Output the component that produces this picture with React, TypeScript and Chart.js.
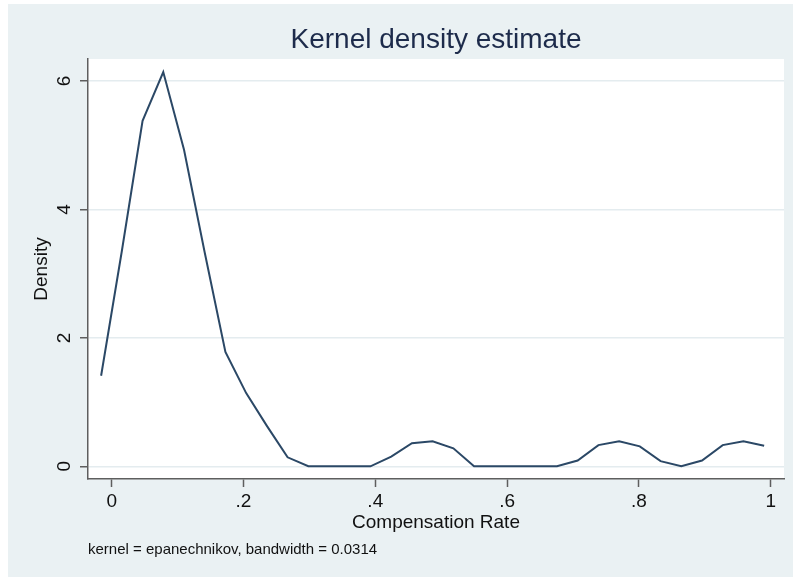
import React, { useEffect, useRef } from "react";
import { Chart, registerables } from "chart.js";

Chart.register(...registerables);

// Evaluation points (Compensation Rate) and kernel density values
const xValues = [
  -0.016, 0.0154, 0.0469, 0.0783, 0.1098, 0.1412, 0.1726, 0.2041, 0.2355, 0.267,
  0.2984, 0.3298, 0.3613, 0.3927, 0.4242, 0.4556, 0.487, 0.5185, 0.5499, 0.5814,
  0.6128, 0.6442, 0.6757, 0.7071, 0.7386, 0.77, 0.8014, 0.8329, 0.8643, 0.8958,
  0.9272, 0.9586, 0.9901,
];
const densityValues = [
  1.41, 3.35, 5.38, 6.14, 4.93, 3.33, 1.78, 1.14, 0.63, 0.14,
  0, 0, 0, 0, 0.15, 0.36, 0.39, 0.28, 0, 0,
  0, 0, 0, 0.09, 0.33, 0.39, 0.31, 0.08, 0, 0.09,
  0.33, 0.39, 0.32,
];

const xTickValues = [0, 0.2, 0.4, 0.6, 0.8, 1];
const xTickLabels = ["0", ".2", ".4", ".6", ".8", "1"];
const yTickValues = [0, 2, 4, 6];
const yTickLabels = ["0", "2", "4", "6"];

const titleText = "Kernel density estimate";
const xAxisTitle = "Compensation Rate";
const yAxisTitle = "Density";
const noteText = "kernel = epanechnikov, bandwidth = 0.0314";

const FONT = "'Liberation Sans', Arial, Helvetica, sans-serif";
const OUTER_BG = "#EAF1F3";
const GRID = "#E4ECEF";
const AXIS = "#5E5E5E";
const LINE = "#2B4866";
const TEXT = "#111111";
const TITLE = "#1D2B4B";

const bgPlugin = {
  id: "stataBg",
  beforeDraw(chart: any) {
    const { ctx, width, height, chartArea } = chart;
    ctx.save();
    ctx.fillStyle = "#ffffff";
    ctx.fillRect(0, 0, width, height);
    ctx.fillStyle = OUTER_BG;
    ctx.fillRect(8, 4, width - 8, height - 4);
    ctx.fillStyle = "#ffffff";
    ctx.fillRect(chartArea.left, chartArea.top, chartArea.right - chartArea.left, chartArea.bottom - chartArea.top);
    ctx.restore();
  },
};

export default function App() {
  const canvasRef = useRef<HTMLCanvasElement | null>(null);

  useEffect(() => {
    if (!canvasRef.current) return;
    const points = xValues.map((x, i) => ({ x, y: densityValues[i] }));
    const chart = new Chart(canvasRef.current, {
      type: "line",
      data: {
        datasets: [
          {
            data: points,
            borderColor: LINE,
            borderWidth: 2,
            pointRadius: 0,
            tension: 0,
            fill: false,
          },
        ],
      },
      options: {
        animation: false,
        responsive: false,
        maintainAspectRatio: false,
        devicePixelRatio: 1,
        layout: { padding: { top: 4, left: 8, right: 9, bottom: 18 } },
        plugins: {
          legend: { display: false },
          tooltip: { enabled: false },
          title: {
            display: true,
            text: titleText,
            fullSize: false,
            color: TITLE,
            font: { family: FONT, size: 28, weight: "normal" },
            padding: { top: 19.2, bottom: 2.2 },
          },
          subtitle: {
            display: true,
            text: noteText,
            position: "bottom",
            align: "start",
            fullSize: false,
            color: TEXT,
            font: { family: FONT, size: 15, weight: "normal" },
            padding: { top: 6, bottom: 0 },
          },
        },
        scales: {
          x: {
            type: "linear",
            min: -0.0359,
            max: 1.0202,
            afterBuildTicks: (scale: any) => {
              scale.ticks = xTickValues.map((v) => ({ value: v }));
            },
            afterFit: (scale: any) => {
              scale.height = 56;
              scale.paddingLeft = 0;
              scale.paddingRight = 0;
            },
            ticks: {
              callback: (_v: any, i: number) => xTickLabels[i],
              color: TEXT,
              font: { family: FONT, size: 19 },
              padding: 3,
              maxRotation: 0,
              minRotation: 0,
            },
            grid: {
              drawOnChartArea: false,
              drawTicks: true,
              tickLength: 8,
              tickColor: AXIS,
              tickWidth: 1.5,
            },
            border: { display: true, color: AXIS, width: 1.5 },
            title: {
              display: true,
              text: xAxisTitle,
              color: TEXT,
              font: { family: FONT, size: 19 },
              padding: { top: 0, bottom: 0.6 },
            },
          },
          y: {
            type: "linear",
            min: -0.198,
            max: 6.344,
            afterBuildTicks: (scale: any) => {
              scale.ticks = yTickValues.map((v) => ({ value: v }));
            },
            afterFit: (scale: any) => {
              scale.width = 80;
              scale.paddingTop = 0;
              scale.paddingBottom = 0;
            },
            ticks: {
              callback: (_v: any, i: number) => yTickLabels[i],
              color: TEXT,
              font: { family: FONT, size: 19 },
              padding: 9.7,
              minRotation: 90,
              maxRotation: 90,
              crossAlign: "center",
            },
            grid: {
              color: GRID,
              lineWidth: 1.5,
              drawTicks: true,
              tickLength: 8,
              tickColor: AXIS,
              tickWidth: 1.5,
            },
            border: { display: true, color: AXIS, width: 1.5 },
            title: {
              display: true,
              text: yAxisTitle,
              color: TEXT,
              font: { family: FONT, size: 19 },
              padding: { top: 22.6, bottom: 0 },
            },
          },
        },
      },
      plugins: [bgPlugin],
    } as any);
    return () => chart.destroy();
  }, []);

  return (
    <div style={{ position: "fixed", left: 0, top: 0, width: 793, height: 577 }}>
      <canvas ref={canvasRef} width={793} height={577} style={{ display: "block" }} />
    </div>
  );
}
